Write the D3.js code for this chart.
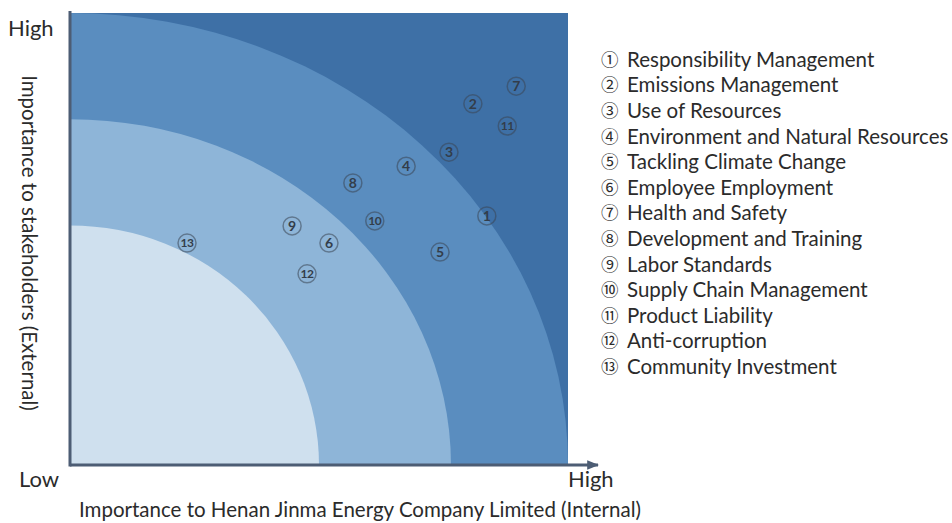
<!DOCTYPE html>
<html>
<head>
<meta charset="utf-8">
<script src="https://cdn.jsdelivr.net/npm/d3@7"></script>
<style>
  html, body { margin: 0; padding: 0; background: #ffffff; }
  svg { display: block; font-family: Lato, "Open Sans", sans-serif; }
</style>
</head>
<body>
<svg id="chart" width="952" height="523"></svg>
<script>
// Material topics: importance to the company (x) and to stakeholders (y), 0–10
const topics = [
  "Responsibility Management",
  "Emissions Management",
  "Use of Resources",
  "Environment and Natural Resources",
  "Tackling Climate Change",
  "Employee Employment",
  "Health and Safety",
  "Development and Training",
  "Labor Standards",
  "Supply Chain Management",
  "Product Liability",
  "Anti-corruption",
  "Community Investment"
];
const circledNumbers = ["①","②","③","④","⑤","⑥","⑦","⑧","⑨","⑩","⑪","⑫","⑬"];
const internalImportance = [8.37, 8.09, 7.61, 6.75, 7.43, 5.20, 8.96, 5.68, 4.46, 6.12, 8.78, 4.76, 2.35];
const externalImportance = [5.51, 7.99, 6.92, 6.61, 4.71, 4.91, 8.38, 6.24, 5.29, 5.40, 7.50, 4.23, 4.91];

// Priority zones: quarter ellipses from the origin (radius along x, radius along y)
const zoneRadiusX = [10.0, 7.65, 5.0];
const zoneRadiusY = [10.0, 7.65, 5.3];
const zoneColors  = ["#5a8dbf", "#8eb5d8", "#cfe0ee"];
const outerColor  = "#3e70a6";

const axisEnds = ["Low", "High"];
const xTitle = "Importance to Henan Jinma Energy Company Limited (Internal)";
const yTitle = "Importance to stakeholders (External)";

const svg = d3.select("#chart");
const plot = { left: 70, top: 13, right: 568, bottom: 465 };

const x = d3.scaleLinear().domain([0, 10]).range([plot.left, plot.right]);
const y = d3.scaleLinear().domain([0, 10]).range([plot.bottom, plot.top]);

svg.append("defs").append("clipPath").attr("id", "plot-clip")
  .append("rect")
  .attr("x", x(0)).attr("y", y(10))
  .attr("width", x(10) - x(0)).attr("height", y(0) - y(10));

const field = svg.append("g").attr("clip-path", "url(#plot-clip)");

field.append("rect")
  .attr("x", x(0)).attr("y", y(10))
  .attr("width", x(10) - x(0)).attr("height", y(0) - y(10))
  .attr("fill", outerColor);

field.selectAll("ellipse.zone")
  .data(zoneRadiusX.map((rx, i) => ({ rx, ry: zoneRadiusY[i], color: zoneColors[i] })))
  .join("ellipse")
  .attr("class", "zone")
  .attr("cx", x(0))
  .attr("cy", y(0))
  .attr("rx", d => x(d.rx) - x(0))
  .attr("ry", d => y(0) - y(d.ry))
  .attr("fill", d => d.color);

// Axes: plain domain lines, arrow on the horizontal one
const axisColor = "#4d5d74";
svg.append("defs").append("marker")
  .attr("id", "arrow")
  .attr("viewBox", "0 0 10 10")
  .attr("refX", 9).attr("refY", 5)
  .attr("markerWidth", 4).attr("markerHeight", 4)
  .attr("orient", "auto")
  .append("path").attr("d", "M0,1 L10,5 L0,9 Z").attr("fill", axisColor);

svg.append("line")
  .attr("x1", x(0)).attr("y1", y(0))
  .attr("x2", x(10) + 30).attr("y2", y(0))
  .attr("stroke", axisColor).attr("stroke-width", 3)
  .attr("marker-end", "url(#arrow)");

svg.append("line")
  .attr("x1", x(0)).attr("y1", y(0) + 1.5)
  .attr("x2", x(0)).attr("y2", y(10) - 2)
  .attr("stroke", axisColor).attr("stroke-width", 3);

// Axis end labels
const endStyle = t => t.attr("font-size", 22).attr("fill", "#2b2b2b");
svg.append("text").attr("x", 8).attr("y", 36).text(axisEnds[1]).call(endStyle);
svg.append("text").attr("x", 19).attr("y", 487).text(axisEnds[0]).call(endStyle);
svg.append("text").attr("x", x(10)).attr("y", 487).text(axisEnds[1]).call(endStyle);

// Axis titles
svg.append("text")
  .attr("x", 360).attr("y", 517)
  .attr("text-anchor", "middle")
  .attr("font-size", 20.5).attr("fill", "#2b2b2b")
  .text(xTitle);

svg.append("text")
  .attr("transform", "translate(22,243) rotate(90)")
  .attr("text-anchor", "middle")
  .attr("font-size", 20.5).attr("fill", "#2b2b2b")
  .text(yTitle);

// Topic markers
const points = topics.map((t, i) => ({
  n: i + 1, x: internalImportance[i], y: externalImportance[i]
}));

const marks = svg.append("g").selectAll("g.topic")
  .data(points)
  .join("g")
  .attr("class", "topic")
  .attr("transform", d => `translate(${x(d.x)},${y(d.y)})`);

marks.append("circle")
  .attr("r", 9)
  .attr("fill", "none")
  .attr("stroke", "#3b4553")
  .attr("stroke-opacity", 0.55)
  .attr("stroke-width", 1.5);

marks.append("text")
  .attr("text-anchor", "middle")
  .attr("dy", "0.36em")
  .attr("font-size", d => d.n > 9 ? 12 : 14)
  .attr("font-weight", 700)
  .attr("fill", "#333d4a")
  .attr("letter-spacing", d => d.n > 9 ? -0.5 : 0)
  .text(d => d.n);

// Legend: circled number followed by the topic name
const legend = svg.append("g").selectAll("g.item")
  .data(topics)
  .join("g")
  .attr("class", "item")
  .attr("transform", (d, i) => `translate(600,${59.5 + 25.6 * i})`);

legend.append("text")
  .attr("x", 1).attr("dy", "0.36em")
  .attr("font-family", "'Noto Sans CJK JP', 'DejaVu Sans', sans-serif")
  .attr("font-size", 17.5).attr("fill", "#2b2b2b")
  .text((d, i) => circledNumbers[i]);

legend.append("text")
  .attr("x", 27).attr("dy", "0.36em")
  .attr("font-size", 20.5).attr("fill", "#2b2b2b")
  .text(d => d);
</script>
</body>
</html>
